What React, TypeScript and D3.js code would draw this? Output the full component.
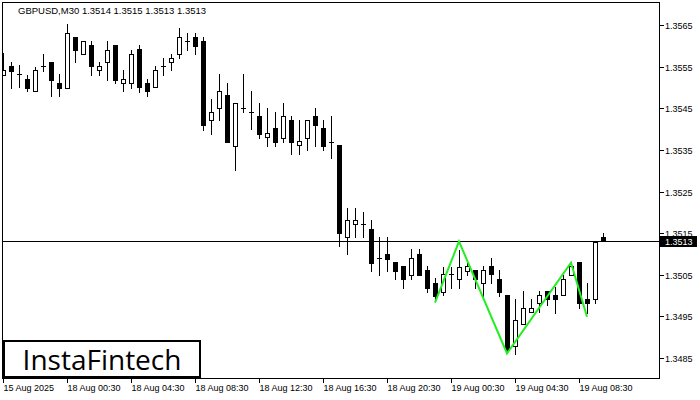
import React from "react";
import * as d3 from "d3";

const symbolTitle = "GBPUSD,M30  1.3514 1.3515 1.3513 1.3513";
const lastPrice = 1.3513;

const opens = [
  1.3553, 1.35551, 1.35532, 1.3552, 1.35491, 1.35551, 1.35561, 1.35511, 1.35499, 1.35621,
  1.3558, 1.35601, 1.35541, 1.35561, 1.35601, 1.35511, 1.3551, 1.35592, 1.35511, 1.355,
  1.35551, 1.3556, 1.3558, 1.35612, 1.3562, 1.35612, 1.35421, 1.3545, 1.35481, 1.3536,
  1.3545, 1.3544, 1.35431, 1.3538, 1.35402, 1.35379, 1.35421, 1.35361, 1.35379, 1.35431,
  1.35402, 1.3537, 1.35362, 1.3514, 1.35171, 1.35172, 1.35159, 1.3509, 1.351, 1.35081,
  1.35071, 1.3505, 1.351, 1.35061, 1.35029, 1.35009, 1.35052, 1.35039, 1.3506, 1.35061,
  1.35029, 1.35071, 1.35039, 1.35001, 1.34879, 1.34931, 1.3496, 1.34981, 1.35011, 1.35001,
  1.35001, 1.35049, 1.35081, 1.34991, 1.34991, 1.3514,
];
const highs = [
  1.35583, 1.35562, 1.35554, 1.3553, 1.3555, 1.3558, 1.35561, 1.35532, 1.35652, 1.35621,
  1.35612, 1.35612, 1.35561, 1.35611, 1.35601, 1.35541, 1.35591, 1.35601, 1.3552, 1.35551,
  1.35571, 1.3558, 1.35642, 1.3563, 1.3563, 1.35622, 1.35472, 1.35532, 1.3551, 1.35463,
  1.35532, 1.35491, 1.35463, 1.3545, 1.3544, 1.35463, 1.35431, 1.35421, 1.35421, 1.3545,
  1.35421, 1.35431, 1.35362, 1.3521, 1.3521, 1.352, 1.35181, 1.3514, 1.3514, 1.35081,
  1.35071, 1.35111, 1.35111, 1.35071, 1.35041, 1.35069, 1.35069, 1.35109, 1.35079, 1.35061,
  1.35071, 1.35091, 1.35061, 1.35001, 1.34991, 1.35011, 1.34991, 1.35011, 1.35011, 1.35021,
  1.35049, 1.35081, 1.35081, 1.35031, 1.35129, 1.3515,
];
const lows = [
  1.3553, 1.35499, 1.35501, 1.35492, 1.35491, 1.3554, 1.3548, 1.3548, 1.35499, 1.3556,
  1.3558, 1.35531, 1.35531, 1.35519, 1.35511, 1.35491, 1.35499, 1.3549, 1.3548, 1.355,
  1.35531, 1.35541, 1.3557, 1.3559, 1.3558, 1.35398, 1.35389, 1.35421, 1.3537, 1.35302,
  1.3544, 1.35401, 1.35379, 1.3536, 1.3536, 1.3537, 1.35339, 1.35339, 1.3535, 1.3536,
  1.3535, 1.3533, 1.35119, 1.351, 1.35141, 1.3514, 1.3506, 1.35049, 1.3506, 1.35039,
  1.35019, 1.35039, 1.3505, 1.35009, 1.34989, 1.35001, 1.35017, 1.35019, 1.35049, 1.35019,
  1.34999, 1.35029, 1.34999, 1.34865, 1.34859, 1.34931, 1.3496, 1.3496, 1.34977, 1.34959,
  1.35001, 1.35049, 1.34969, 1.34957, 1.34981, 1.3513,
];
const closes = [
  1.35542, 1.3554, 1.35532, 1.35499, 1.35541, 1.35551, 1.35519, 1.35499, 1.3563, 1.35591,
  1.35612, 1.35551, 1.35551, 1.35591, 1.35519, 1.3552, 1.3558, 1.355, 1.35491, 1.35541,
  1.35551, 1.3557, 1.3562, 1.35612, 1.356, 1.3541, 1.3544, 1.35491, 1.3537, 1.35463,
  1.3545, 1.3544, 1.35389, 1.3539, 1.3537, 1.35431, 1.3537, 1.35371, 1.35421, 1.3541,
  1.3536, 1.3537, 1.3515, 1.35182, 1.35181, 1.35172, 1.35079, 1.3509, 1.35088, 1.3506,
  1.35039, 1.3509, 1.3505, 1.35019, 1.34999, 1.35051, 1.35052, 1.35069, 1.3507, 1.35039,
  1.35061, 1.35051, 1.35009, 1.34869, 1.34941, 1.34969, 1.34969, 1.35001, 1.34991, 1.34991,
  1.35039, 1.35071, 1.34981, 1.34981, 1.35129, 1.3513,
];

const xTickIndices = [0, 8, 16, 24, 32, 40, 48, 56, 64, 72];
const xTickLabels = [
  "15 Aug 2025", "18 Aug 00:30", "18 Aug 04:30", "18 Aug 08:30", "18 Aug 12:30",
  "18 Aug 16:30", "18 Aug 20:30", "19 Aug 00:30", "19 Aug 04:30", "19 Aug 08:30",
];
const yTickValues = [1.3485, 1.3495, 1.3505, 1.3515, 1.3525, 1.3535, 1.3545, 1.3555, 1.3565];

const patternIndices = [54, 57, 63, 71, 73];
const patternPrices = [1.34983, 1.3513, 1.34861, 1.35079, 1.34949];

const FONT = "'Liberation Sans', Arial, sans-serif";

export default function App() {
  const W = 700;
  const H = 400;
  const left = 2.5, right = 659.5, top = 2.5, bottom = 378.5;

  const x = d3.scaleLinear().domain([0, opens.length - 1]).range([3, 603]);
  const y = d3.scaleLinear().domain([1.3485, 1.3565]).range([358, 25]);

  const candles = opens.map((o, i) => {
    const c = closes[i];
    const cx = Math.round(x(i));
    const yh = Math.round(y(highs[i]));
    const yl = Math.round(y(lows[i]));
    const yTop = Math.round(y(Math.max(o, c)));
    const yBot = Math.round(y(Math.min(o, c)));
    const bull = c >= o;
    return (
      <g key={i}>
        <line x1={cx + 0.5} x2={cx + 0.5} y1={yh} y2={yl + 1} stroke="#000" strokeWidth={1} />
        {yBot - yTop < 1 ? (
          <line x1={cx - 2} x2={cx + 3} y1={yTop + 0.5} y2={yTop + 0.5} stroke="#000" strokeWidth={1} />
        ) : (
          <rect
            x={cx - 1.5}
            y={yTop + 0.5}
            width={4}
            height={yBot - yTop}
            fill={bull ? "#fff" : "#000"}
            stroke="#000"
            strokeWidth={1}
          />
        )}
      </g>
    );
  });

  const patternLine = d3
    .line<number>()
    .x((_, k) => x(patternIndices[k]))
    .y((p) => y(p))(patternPrices);

  const yLast = Math.round(y(lastPrice)) + 0.5;

  return (
    <svg
      width={W}
      height={H}
      style={{ position: "absolute", left: 0, top: 0, background: "#fff" }}
      shapeRendering="crispEdges"
    >
      <rect x={0} y={0} width={W} height={H} fill="#fff" />
      <text x={18} y={14} fontFamily={FONT} fontSize={9.5} fill="#000">
        {symbolTitle}
      </text>

      <g clipPath="url(#plotclip)">{candles}</g>
      <defs>
        <clipPath id="plotclip">
          <rect x={left} y={top} width={right - left} height={bottom - top} />
        </clipPath>
      </defs>

      <line x1={left} x2={right} y1={yLast} y2={yLast} stroke="#000" strokeWidth={1} />

      <path
        d={patternLine || ""}
        fill="none"
        stroke="#22ee22"
        strokeWidth={2}
        shapeRendering="geometricPrecision"
        strokeLinejoin="miter"
      />

      <rect x={left} y={top} width={right - left} height={bottom - top} fill="none" stroke="#000" strokeWidth={1} />

      {yTickValues.map((v) => {
        const yy = Math.round(y(v)) + 0.5;
        return (
          <g key={v}>
            <line x1={right} x2={right + 4} y1={yy} y2={yy} stroke="#000" strokeWidth={1} />
            <text x={665} y={yy} dy="0.35em" fontFamily={FONT} fontSize={9} fill="#000">
              {v.toFixed(4)}
            </text>
          </g>
        );
      })}

      <rect x={660} y={236} width={37} height={11} fill="#000" />
      <text x={665} y={241.5} dy="0.35em" fontFamily={FONT} fontSize={9} fill="#fff">
        {lastPrice.toFixed(4)}
      </text>

      {xTickIndices.map((idx, k) => {
        const xx = Math.round(x(idx)) + 0.5;
        return (
          <g key={idx}>
            <line x1={xx} x2={xx} y1={bottom} y2={bottom + 4} stroke="#000" strokeWidth={1} />
            <text x={xx} y={388} dy="0.35em" fontFamily={FONT} fontSize={9} fill="#000">
              {xTickLabels[k]}
            </text>
          </g>
        );
      })}

      <rect x={4} y={341} width={196} height={36} fill="#fff" stroke="#000" strokeWidth={2} />
      <text
        x={102}
        y={370}
        textAnchor="middle"
        fontFamily="'Open Sans', sans-serif"
        fontSize={28}
        fill="#000"
        shapeRendering="geometricPrecision"
      >
        InstaFintech
      </text>
    </svg>
  );
}
